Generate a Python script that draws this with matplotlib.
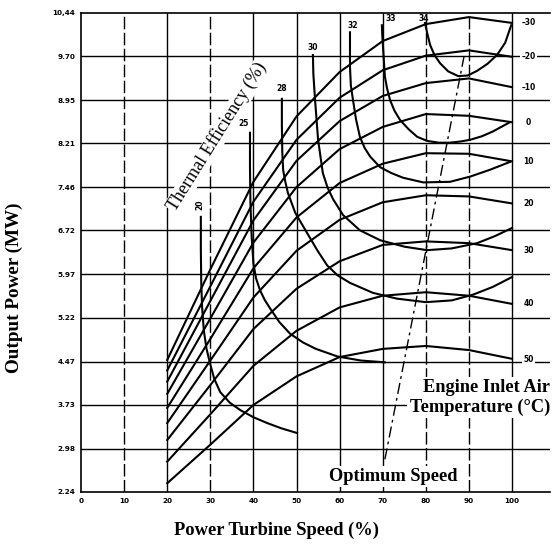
import matplotlib
matplotlib.use("Agg")
import matplotlib.pyplot as plt

# axes ticks
speed_ticks = [0, 10, 20, 30, 40, 50, 60, 70, 80, 90, 100]
power_ticks = [2.24, 2.98, 3.73, 4.47, 5.22, 5.97, 6.72, 7.46, 8.21, 8.95, 9.70, 10.44]
power_labels = ["2.24", "2.98", "3.73", "4.47", "5.22", "5.97", "6.72", "7.46",
                "8.21", "8.95", "9.70", "10,44"]

# constant inlet air temperature curves (power vs speed)
temp_speed = [20, 30, 40, 50, 60, 70, 80, 90, 100]
temps = [-30, -20, -10, 0, 10, 20, 30, 40, 50]
power_m30 = [4.50, 6.05, 7.55, 8.67, 9.43, 9.96, 10.25, 10.37, 10.27]
power_m20 = [4.32, 5.76, 7.21, 8.27, 8.99, 9.46, 9.71, 9.80, 9.69]
power_m10 = [4.13, 5.51, 6.89, 7.91, 8.59, 9.02, 9.24, 9.32, 9.17]
power_0 = [3.92, 5.21, 6.51, 7.46, 8.11, 8.49, 8.71, 8.68, 8.57]
power_10 = [3.68, 4.86, 6.07, 6.94, 7.53, 7.86, 8.04, 8.03, 7.90]
power_20 = [3.42, 4.49, 5.57, 6.37, 6.90, 7.20, 7.32, 7.30, 7.18]
power_30 = [3.13, 4.07, 5.03, 5.72, 6.19, 6.47, 6.53, 6.50, 6.38]
power_40 = [2.76, 3.57, 4.40, 5.00, 5.40, 5.60, 5.66, 5.60, 5.46]
power_50 = [2.39, 3.05, 3.73, 4.22, 4.55, 4.69, 4.74, 4.67, 4.52]
temp_power = [power_m30, power_m20, power_m10, power_0, power_10,
              power_20, power_30, power_40, power_50]
temp_label_y = [10.27, 9.69, 9.17, 8.57, 7.90, 7.18, 6.38, 5.46, 4.50]
temp_labels = ["\u201330", "\u201320", "\u201310", "0", "10", "20", "30", "40", "50"]

# thermal efficiency contours
eff20_x = [27.8, 27.8, 27.9, 28.1, 28.5, 29.1, 29.9, 30.9, 32.3, 34.5, 37.0, 40.0, 43.2, 46.5, 50.1]
eff20_y = [6.95, 6.40, 5.80, 5.40, 5.00, 4.70, 4.45, 4.18, 3.95, 3.77, 3.64, 3.52, 3.42, 3.33, 3.25]
eff25_x = [39.2, 39.2, 39.3, 39.6, 40.0, 40.6, 41.5, 42.6, 43.9, 46.0, 48.5, 51.5, 54.5, 59.5, 65.0, 70.5]
eff25_y = [8.39, 7.80, 7.20, 6.60, 6.15, 5.90, 5.70, 5.53, 5.38, 5.15, 4.95, 4.80, 4.69, 4.56, 4.49, 4.46]
eff28_x = [46.6, 46.6, 46.7, 46.9, 47.4, 48.0, 49.7, 52.4, 54.8, 57.1, 59.5, 62.4, 67.7, 73.3,
           80.0, 86.0, 91.0, 95.5, 100]
eff28_y = [8.97, 8.50, 8.05, 7.75, 7.55, 7.36, 7.02, 6.68, 6.38, 6.12, 5.95, 5.82, 5.65, 5.55,
           5.49, 5.52, 5.62, 5.75, 5.92]
eff30_x = [53.8, 53.9, 54.3, 55.0, 56.1, 57.2, 58.5, 60.8, 64.7, 69.4, 75.0, 80.3, 86.0, 91.9, 96.0, 100]
eff30_y = [9.72, 9.40, 8.95, 8.27, 7.70, 7.45, 7.25, 6.98, 6.72, 6.55, 6.44, 6.38, 6.41, 6.50, 6.62, 6.76]
eff32_x = [62.4, 62.4, 62.6, 63.1, 63.8, 64.7, 65.8, 67.1, 69.4, 72.0, 74.7, 79.4, 85.6, 90.3, 95.0, 99.5]
eff32_y = [10.11, 9.52, 9.20, 8.95, 8.62, 8.32, 8.13, 7.98, 7.80, 7.70, 7.62, 7.54, 7.55, 7.64, 7.76, 7.89]
eff33_x = [69.8, 69.9, 70.1, 70.5, 71.0, 71.7, 72.7, 74.0, 76.0, 78.0, 80.3, 83.0, 85.6, 88.0,
           90.3, 93.0, 95.5, 99.5]
eff33_y = [10.23, 10.05, 9.81, 9.35, 9.15, 8.95, 8.77, 8.61, 8.45, 8.32, 8.25, 8.22, 8.22, 8.24,
           8.27, 8.33, 8.41, 8.57]
eff34_x = [79.8, 80.3, 81.0, 82.0, 83.3, 85.2, 87.5, 89.7, 91.9, 94.3, 96.5, 98.4, 99.8]
eff34_y = [10.27, 10.10, 9.89, 9.72, 9.58, 9.44, 9.36, 9.37, 9.45, 9.57, 9.72, 9.93, 10.23]
eff_curves = [(eff20_x, eff20_y), (eff25_x, eff25_y), (eff28_x, eff28_y), (eff30_x, eff30_y),
              (eff32_x, eff32_y), (eff33_x, eff33_y), (eff34_x, eff34_y)]
eff_labels = ["20", "25", "28", "30", "32", "33", "34"]
eff_label_x = [27.6, 37.6, 46.6, 53.8, 63.1, 71.9, 79.4]
eff_label_y = [7.15, 8.55, 9.15, 9.85, 10.23, 10.35, 10.35]

# optimum speed line
opt_x = [70.5, 89.0]
opt_y = [2.80, 9.75]

SERIF = "Liberation Serif"
TICKFONT = dict(family="DejaVu Sans", weight="bold", size=5.2)

fig = plt.figure(figsize=(5.54, 5.46), dpi=100)
ax = fig.add_axes([81 / 554, 1 - 492 / 546, 469 / 554, 479 / 546])
ax.set_xlim(0, 108.8)
ax.set_ylim(2.24, 10.44)

# grid
for x in speed_ticks[1:]:
    ls = (0, (9, 2.5)) if x in (10, 30, 80, 90) else "-"
    ax.plot([x, x], [2.24, 10.44], color="black", lw=1.0, ls=ls, zorder=1)
for y in power_ticks[1:-1]:
    ax.plot([0, 108.8], [y, y], color="black", lw=1.0, zorder=1)

ax.spines["right"].set_visible(False)
for s in ["left", "top", "bottom"]:
    ax.spines[s].set_linewidth(1.2)

ax.set_xticks(speed_ticks)
ax.set_xticklabels([str(v) for v in speed_ticks], fontdict=TICKFONT)
ax.set_yticks(power_ticks)
ax.set_yticklabels(power_labels, fontdict=TICKFONT)
ax.tick_params(length=0, pad=4)

# temperature curves
for p in temp_power:
    ax.plot(temp_speed, p, color="black", lw=1.5, zorder=3)
for lab, y in zip(temp_labels, temp_label_y):
    ax.text(103.8, y, lab, ha="center", va="center", fontsize=5.5, fontweight="bold",
            family="DejaVu Sans", zorder=5,
            bbox=dict(facecolor="white", edgecolor="none", pad=1.0))

# efficiency contours
for (ex, ey) in eff_curves:
    ax.plot(ex, ey, color="black", lw=1.5, zorder=3)
for i, lab in enumerate(eff_labels):
    ax.text(eff_label_x[i], eff_label_y[i], lab, ha="center", va="center",
            fontsize=5.5, fontweight="bold", family="DejaVu Sans",
            rotation=90 if lab == "20" else 0, zorder=5)

# optimum speed
ax.plot(opt_x, opt_y, color="black", lw=1.0, ls=(0, (8, 3, 2, 3)), zorder=3)

# annotations
ax.text(31.6, 8.32, "Thermal Efficiency (%)", rotation=58, ha="center", va="center",
        fontsize=13, family=SERIF, zorder=6,
        bbox=dict(facecolor="white", edgecolor="none", pad=0.5))
ax.text(108.8, 3.86, "Engine Inlet Air\nTemperature (\u00b0C)", ha="right", va="center",
        fontsize=13.2, fontweight="bold", family=SERIF, linespacing=1.15, zorder=6,
        bbox=dict(facecolor="white", edgecolor="none", pad=2))
ax.text(72.5, 2.50, "Optimum Speed", ha="center", va="center",
        fontsize=13.2, fontweight="bold", family=SERIF, zorder=6,
        bbox=dict(facecolor="white", edgecolor="none", pad=1.5))

fig.text(276 / 554, 1 - 530 / 546, "Power Turbine Speed (%)", ha="center", va="center",
         fontsize=13.3, fontweight="bold", family=SERIF)
fig.text(14 / 554, 1 - 288 / 546, "Output Power (MW)", ha="center", va="center",
         rotation=90, fontsize=13.8, fontweight="bold", family=SERIF)

fig.savefig("out.png", dpi=100)
